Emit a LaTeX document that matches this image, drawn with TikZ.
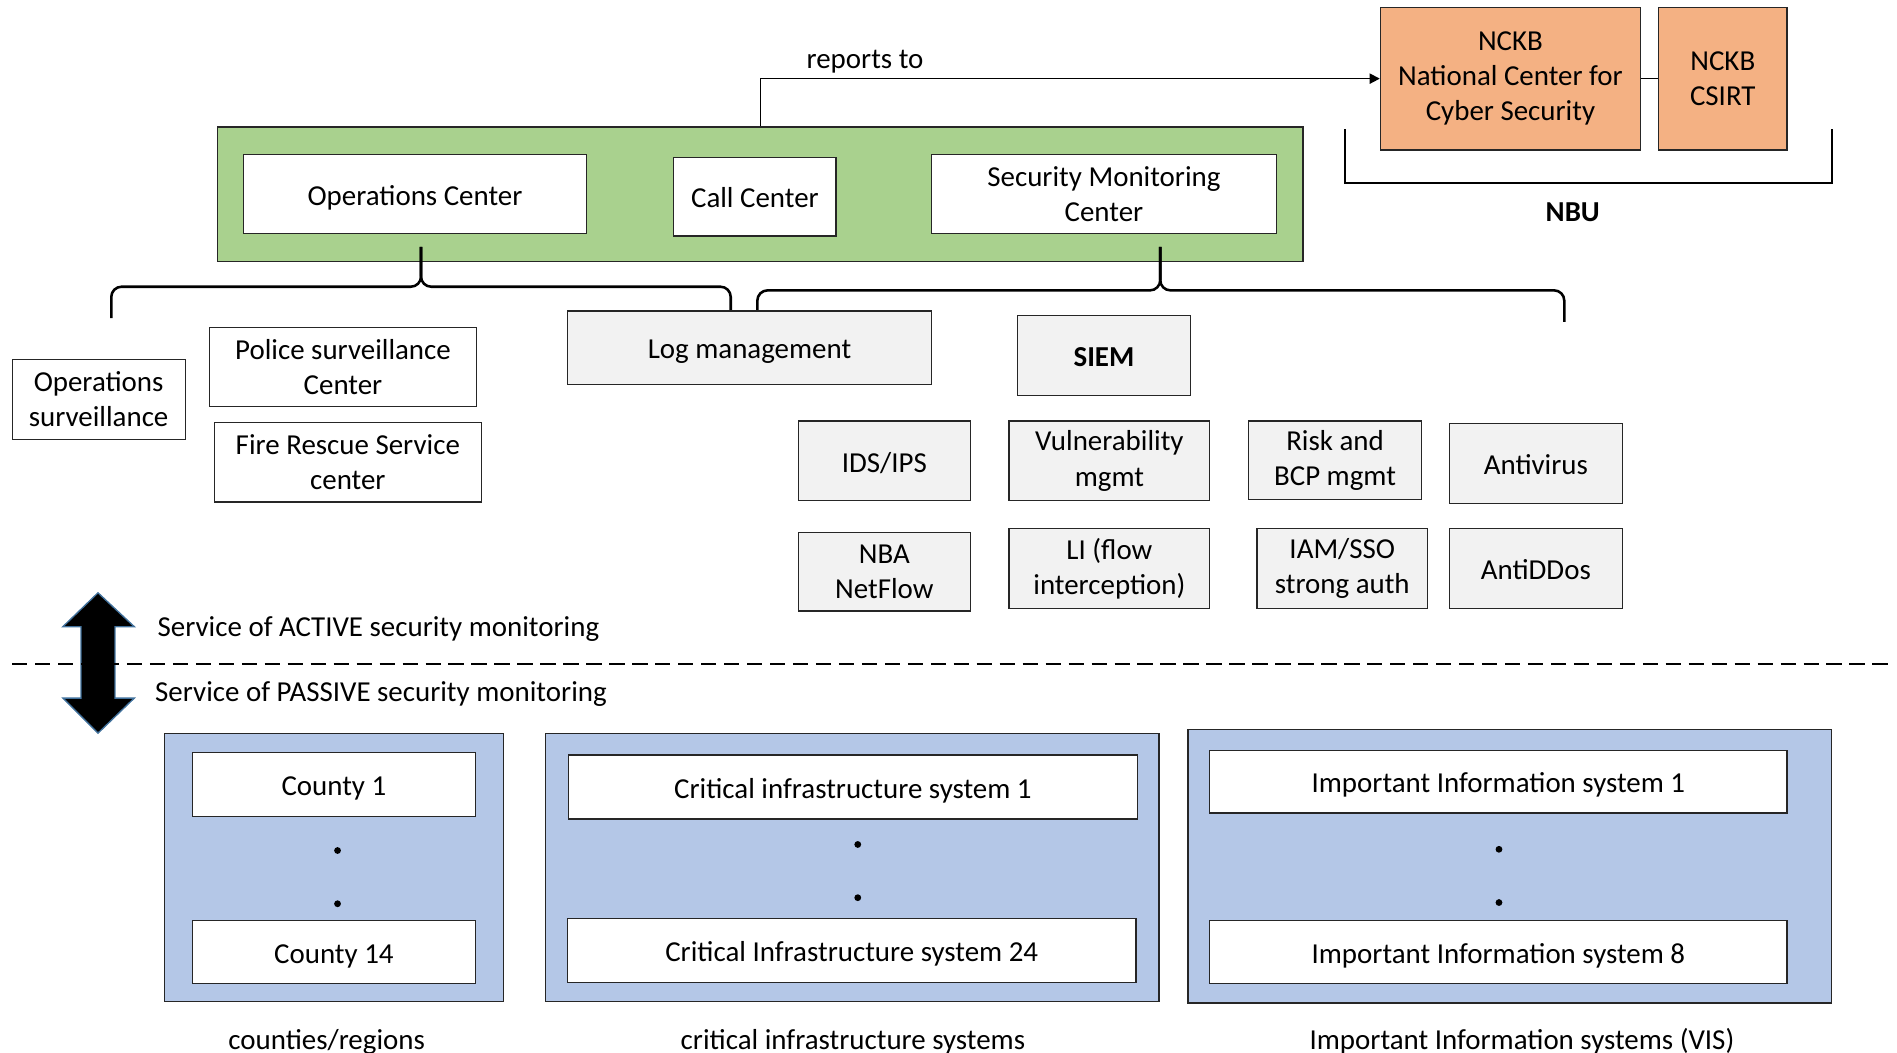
\documentclass[tikz,border=0pt]{standalone}
\usepackage{fontspec}
\setmainfont{Carlito}
\usetikzlibrary{arrows.meta}

\definecolor{socgreen}{HTML}{A9D18E}
\definecolor{nckborange}{HTML}{F4B183}
\definecolor{sysblue}{HTML}{B4C7E7}
\definecolor{boxgray}{HTML}{F2F2F2}
\definecolor{arrowedge}{HTML}{41719C}

\tikzset{
  txt/.style={font=\fontsize{17}{20.6}\selectfont, align=center},
  oneline/.style={text height=1.5em, text depth=0.19em},
  box/.style={txt, draw=black!85, line width=0.7pt, inner sep=2pt},
  sz/.style 2 args={minimum width=#1*0.025cm, minimum height=#2*0.025cm},
  wbox/.style={box, fill=white},
  gbox/.style={box, fill=boxgray},
  obox/.style={box, fill=nckborange},
  group/.style={draw=black!85, line width=0.7pt},
  brace/.style={line width=1.5pt, rounded corners=6pt},
}

\begin{document}
\begin{tikzpicture}[x=0.025cm, y=-0.025cm]
                \useasboundingbox (0,0) rectangle (1568,870);
                % operations / monitoring centre
                \node [group, fill=socgreen, sz={897}{111}] (soc) at (628.5,160.5) {};
                \node [wbox, oneline, sz={284}{65}] (opc) at (343,160.5) {Operations Center};
                \node [wbox, oneline, sz={134}{65}] (call) at (624,162.5) {Call Center};
                \node [wbox, sz={285}{65}] (smc) at (912.5,160.5) {Security Monitoring\\Center};
                % NBU
                \node [obox, sz={215}{118}] (nckb) at (1248.5,65) {NCKB\\National Center for\\Cyber Security};
                \node [obox, sz={106}{118}] (csirt) at (1424,65) {NCKB\\CSIRT};
                \draw [line width=1pt] (nckb) -- (csirt);
                \draw [line width=1pt, -{Triangle[length=6pt,width=6pt]}] (soc.north) |- (nckb.west);
                \node [txt, oneline] (rep) at (715,47) {reports to};
                \coordinate (nbuL) at (1112,107);
                \coordinate (nbuR) at (1514,107);
                \draw [line width=1pt] (nbuL) -- (1112,151) -- (1514,151) -- (nbuR);
                \node [txt, oneline, font=\fontsize{17}{20.6}\selectfont\bfseries] (nbu) at (1300,174) {NBU};
                % braces
                \draw [brace] (92,263) -- (92,237) -- (348,237) -- (348,204);
                \draw [brace] (348,204) -- (348,237) -- (604,237) -- (604,263);
                \draw [brace] (626,266) -- (626,240) -- (959,240) -- (959,204);
                \draw [brace] (959,204) -- (959,240) -- (1293,240) -- (1293,266);
                % services
                \node [wbox, sz={143}{66}] (opsurv) at (81.5,330) {Operations\\surveillance};
                \node [wbox, sz={221}{65}] (police) at (283.5,303.5) {Police surveillance\\Center};
                \node [wbox, sz={221}{66}] (fire) at (287.5,382) {Fire Rescue Service\\center};
                \node [gbox, oneline, sz={301}{61}] (logm) at (619.5,287.5) {Log management};
                \node [gbox, oneline, sz={143}{66}, font=\fontsize{17}{20.6}\selectfont\bfseries] (siem) at (912.5,294) {SIEM};
                \node [gbox, oneline, sz={142}{66}] (ids) at (731,381) {IDS/IPS};
                \node [gbox, sz={166}{66}] (vuln) at (917,381) {Vulnerability\\mgmt};
                \node [gbox, sz={143}{65}] (risk) at (1103.5,380.5) {Risk and\\BCP mgmt};
                \node [gbox, oneline, sz={143}{66}] (av) at (1269.5,383) {Antivirus};
                \node [gbox, sz={142}{65}] (nba) at (731,472.5) {NBA\\NetFlow};
                \node [gbox, sz={166}{66}] (li) at (917,470) {LI (flow\\interception)};
                \node [gbox, sz={141}{66}] (iam) at (1109.5,470) {IAM/SSO\\strong auth};
                \node [gbox, oneline, sz={143}{66}] (anti) at (1269.5,470) {AntiDDos};
                % active / passive
                \draw [fill=black, draw=arrowedge, line width=0.8pt] (81,490) -- (111,518) -- (95,518) -- (95,577) -- (111,577) -- (81,606) -- (52,577) -- (67,577) -- (67,518) -- (52,518) -- cycle;
                \draw [line width=1.4pt, dash pattern=on 9pt off 4.5pt] (10,549) -- (1562,549);
                \node [txt, oneline, anchor=west, inner sep=0pt] (active) at (130,517) {Service of ACTIVE security monitoring};
                \node [txt, oneline, anchor=west, inner sep=0pt] (passive) at (128,571) {Service of PASSIVE security monitoring};
                % monitored systems
                \node [group, fill=sysblue, sz={280}{222}] (counties) at (276,717) {};
                \node [wbox, oneline, sz={234}{53}] (cty1) at (276,648.5) {County 1};
                \node [wbox, oneline, sz={234}{52}] (cty14) at (276,787) {County 14};
                \node [group, fill=sysblue, sz={507}{222}] (crit) at (704.5,717) {};
                \node [wbox, oneline, sz={470}{53}] (cis1) at (705,650.5) {Critical infrastructure system 1};
                \node [wbox, oneline, sz={470}{53}] (cis24) at (704,785.5) {Critical Infrastructure system 24};
                \node [group, fill=sysblue, sz={532}{226}] (vis) at (1248,716) {};
                \node [wbox, oneline, sz={477}{52}] (vis1) at (1238.5,646) {Important Information system 1};
                \node [wbox, oneline, sz={477}{52}] (vis8) at (1238.5,787) {Important Information system 8};
                \foreach \x/\y in {279/703, 279/747, 709/698, 709/742, 1239/702, 1239/746}
                  \fill (\x,\y) circle (2pt);
                \node [txt, oneline] (lcty) at (270,858) {counties/regions};
                \node [txt, oneline] (lcrit) at (705,858) {critical infrastructure systems};
                \node [txt, oneline] (lvis) at (1258,858) {Important Information systems (VIS)};
\end{tikzpicture}
\end{document}
